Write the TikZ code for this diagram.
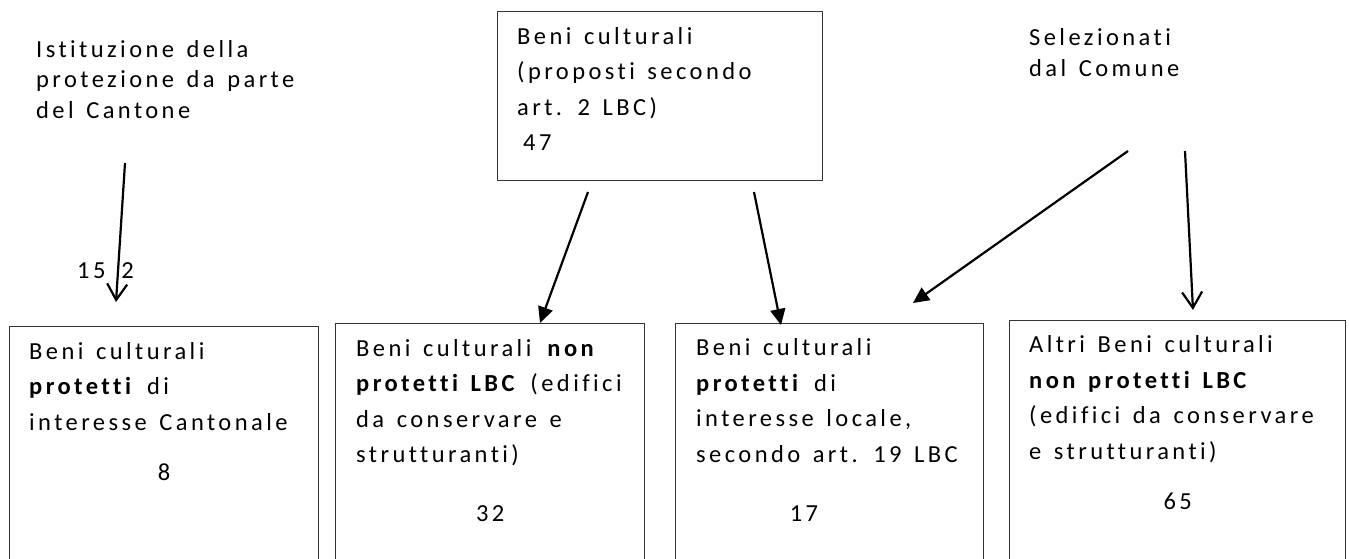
\documentclass[tikz,border=0pt]{standalone}
\usepackage{fontspec}
\setmainfont{Carlito}[LetterSpace=14, WordSpace=1.4, Ligatures=NoCommon]
\usetikzlibrary{arrows.meta, calc}

\newcommand{\boxfont}{\fontsize{24.5}{35.5}\selectfont}
\newcommand{\lblfont}{\fontsize{24.5}{30.5}\selectfont}

\begin{document}
\begin{tikzpicture}[x=1pt, y=-1pt,
  box/.style={draw=black!80, line width=1.3pt, anchor=north west, inner sep=0pt},
  boxtxt/.style={anchor=base west, align=left, inner sep=0pt, font=\boxfont},
  num/.style={anchor=base, inner sep=0pt, font=\boxfont},
  lbl/.style={anchor=base west, align=left, inner sep=0pt, font=\lblfont},
  open/.style={-{Straight Barb[length=16pt, width=20pt]}, line width=2.2pt},
  full/.style={-{Triangle[length=16pt, width=15pt]}, line width=2.2pt}
]
\useasboundingbox (0,0) rectangle (1349,558);
\clip (0,0) rectangle (1349,558);

% proposed goods (base = last line)
\node[box, minimum width=325pt, minimum height=169pt] (prop) at (497,11) {};
\node[boxtxt] (propT) at ($(prop.north west)+(20,139.5)$) {Beni culturali\\(proposti secondo\\art. 2 LBC)\\\hspace*{6pt}47};

% side labels
\node[lbl] (cantlbl) at (36,118) {Istituzione della\\protezione da parte\\del Cantone};
\node[lbl] (comlbl) at (1029,76) {Selezionati\\dal Comune};
\node[lbl] (numlbl) at (77,278) {15\hspace{16pt}2};

% bottom row
\node[box, minimum width=309pt, minimum height=260pt] (cant) at (9,326) {};
\node[box, minimum width=309pt, minimum height=260pt] (nonprot) at (335,323) {};
\node[box, minimum width=308pt, minimum height=260pt] (locale) at (675,323) {};
\node[box, minimum width=336pt, minimum height=260pt] (altri) at (1009,320) {};

\node[boxtxt] (cantT) at ($(cant.north west)+(20,104)$) {Beni culturali\\\textbf{protetti} di\\interesse Cantonale};
\node[boxtxt] (nonprotT) at ($(nonprot.north west)+(21,139.5)$) {Beni culturali \textbf{non}\\\textbf{protetti LBC} (edifici\\da conservare e\\strutturanti)};
\node[boxtxt] (localeT) at ($(locale.north west)+(21,139)$) {Beni culturali\\\textbf{protetti} di\\interesse locale,\\secondo art. 19 LBC};
\node[boxtxt] (altriT) at ($(altri.north west)+(20,139)$) {Altri Beni culturali\\\textbf{non protetti LBC}\\(edifici da conservare\\e strutturanti)};

\node[num] (cantN) at ($(cant.north)+(0,154)$) {8};
\node[num] (nonprotN) at ($(nonprot.north)+(0,198)$) {32};
\node[num] (localeN) at ($(locale.north west)+(129,198)$) {17};
\node[num] (altriN) at ($(altri.north)+(0,189)$) {65};

% arrows
\coordinate (cantsrc) at (125,163);
\coordinate (canttip) at (116,302);
\coordinate (propsrcA) at (588,192);
\coordinate (propsrcB) at (754,192);
\coordinate (comsrcA) at (1128,151);
\coordinate (comsrcB) at (1185,151);
\coordinate (comtipA) at (913,303);
\coordinate (comtipB) at (1193,310);

\draw[open] (cantsrc) -- (canttip);
\draw[full] (propsrcA) -- ($(nonprot.north west)+(205,0)$);
\draw[full] (propsrcB) -- ($(locale.north west)+(106,2)$);
\draw[full] (comsrcA) -- (comtipA);
\draw[open] (comsrcB) -- (comtipB);

\end{tikzpicture}
\end{document}
